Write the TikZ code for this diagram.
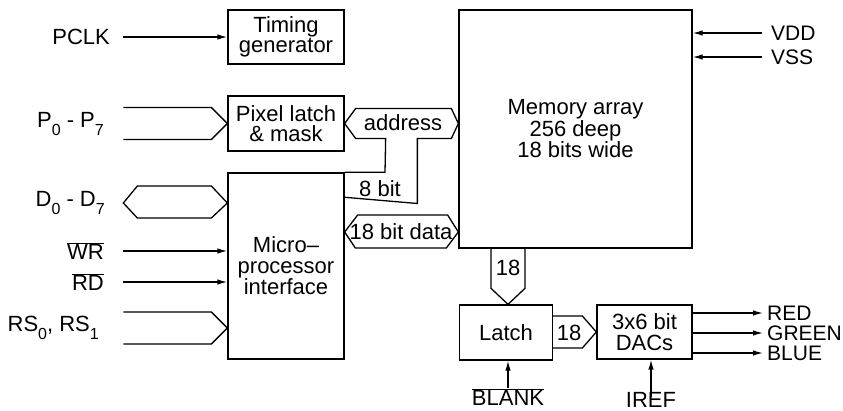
\documentclass[tikz,border=0pt]{standalone}
\usepackage{fontspec}
\setmainfont{Liberation Sans}
\usepackage{tikz}
\usetikzlibrary{arrows.meta, positioning, calc}

\newcommand{\lowsub}[1]{\raisebox{-0.35em}{\fontsize{16}{16}\selectfont #1}}
\newcommand{\negsig}[1]{$\overline{\hbox{#1}}$}

\begin{document}
\begin{tikzpicture}[
    x=1pt, y=-1pt,
    % Styles
    block/.style={
        rectangle, draw=black, line width=1.3pt,
        inner sep=0pt, align=center,
        font=\fontsize{22}{20.5}\selectfont
    },
    sig/.style={inner sep=0pt, font=\fontsize{22}{20.5}\selectfont},
    outsig/.style={inner sep=0pt, anchor=west, font=\fontsize{21}{19}\selectfont},
    buslbl/.style={inner sep=0pt, font=\fontsize{22}{20.5}\selectfont},
    arrow/.style={-{Latex[length=10pt, width=5.5pt]}, line width=1.3pt},
    bus/.style={line width=1.3pt, line join=miter}
]
\useasboundingbox (0,0) rectangle (843,411);

% === BLOCKS ===
\node (timing) [block, minimum width=116, minimum height=54] at (286,37) {Timing\\generator};
\node (pixel) [block, minimum width=116, minimum height=55] at (286,123.5) {Pixel latch\\\& mask};
\node (micro) [block, minimum width=116, minimum height=186] at (286,266) {Micro--\\processor\\interface};
\node (mem) [block, minimum width=233, minimum height=238] at (575.5,129) {Memory array\\256 deep\\18 bits wide};
\node (latch) [block, minimum width=93, minimum height=55] at (506,332.5) {Latch};
\node (dac) [block, minimum width=95, minimum height=54] at (644.5,332) {3x6 bit\\DACs};

% === SIGNAL NAMES ===
\node (pclk) [sig, anchor=east] at (110,37) {PCLK};
\node (pin) [sig, anchor=east] at (104,124) {P\lowsub{0} - P\lowsub{7}};
\node (din) [sig, anchor=east] at (105,203) {D\lowsub{0} - D\lowsub{7}};
\node (wr) [sig, anchor=east] at (104,251) {\negsig{WR}};
\node (rd) [sig, anchor=east] at (104,282) {\negsig{RD}};
\node (rs) [sig, anchor=east] at (99,328) {RS\lowsub{0}, RS\lowsub{1}};
\node (vdd) [outsig] at (771,33) {VDD};
\node (vss) [outsig] at (771,57) {VSS};
\node (red) [outsig] at (767,313) {RED};
\node (green) [outsig] at (767,333) {GREEN};
\node (blue) [outsig] at (767,353) {BLUE};
\node (blank) [sig, anchor=north] at (508,388) {\negsig{BLANK}};
\node (iref) [sig, anchor=north] at (651,392) {IREF};

% === BUS LABELS ===
\node (addr) [buslbl] at (403,123) {address};
\node (eight) [buslbl] at (380,189) {8 bit};
\node (data) [buslbl] at (401,232) {18 bit data};
\node (memout) [buslbl] at (508,268) {18};
\node (latout) [buslbl] at (569,333) {18};

% === SINGLE LINES ===
\draw [arrow] ([xshift=13pt]pclk.east) -- (timing.west |- pclk.east);
\draw [arrow] ([xshift=19pt]wr.east) -- (micro.west |- wr.east);
\draw [arrow] ([xshift=19pt]rd.east) -- (micro.west |- rd.east);
\draw [arrow] ([xshift=-9pt]vdd.west) -- (mem.east |- vdd.west);
\draw [arrow] ([xshift=-9pt]vss.west) -- (mem.east |- vss.west);
\draw [arrow] (dac.east |- red.west) -- ([xshift=-4pt]red.west);
\draw [arrow] (dac.east |- green.west) -- ([xshift=-4pt]green.west);
\draw [arrow] (dac.east |- blue.west) -- ([xshift=-4pt]blue.west);
\draw [arrow] (blank.north) -- (latch.south -| blank.north);
\draw [arrow] ([yshift=-5pt]iref.north) -- (dac.south -| iref.north);

% === BUSES ===
% inputs on the left
\draw [bus] (pixel.west) -- ++(-16,-16) -- ++(-88,0);
\draw [bus] (pixel.west) -- ++(-16,16) -- ++(-88,0);
\draw [bus] (micro.west |- din.east) -- ++(-16,-17) -- ++(-74,0) -- ++(-14,17)
    -- ++(14,15) -- ++(74,0) -- cycle;
\draw [bus] (micro.west |- rs.east) -- ++(-16,-16) -- ++(-88,0);
\draw [bus] (micro.west |- rs.east) -- ++(-16,16) -- ++(-88,0);

% address and data to memory
\draw [bus] (pixel.east) -- ++(11,-15) coordinate (a1) -- ($(a1 -| mem.west)+(-7,0)$)
    -- (pixel.east -| mem.west) -- ++(-7,15) -- ++(-34,0) -- ++(0,65) -- (micro.east |- eight.south);
\draw [bus] (pixel.east) -- ++(11,15) -- ++(30,0) -- (micro.north -| 385,0) -- (micro.north east);
\draw [bus] (micro.east |- data) -- ++(13,-17) -- ++(90,0) -- (mem.west |- data)
    -- ++(-12,16) -- ++(-91,0) -- cycle;

% memory to latch to DACs
\draw [bus] (latch.north -| memout) -- ++(-17,-16) -- (mem.south -| 491,0);
\draw [bus] (latch.north -| memout) -- ++(17,-16) -- (mem.south -| 525,0);
\draw [bus] (dac.west) -- ++(-14,-16) -- (latch.east |- 0,316);
\draw [bus] (dac.west) -- ++(-14,16) -- (latch.east |- 0,348);

\end{tikzpicture}
\end{document}
